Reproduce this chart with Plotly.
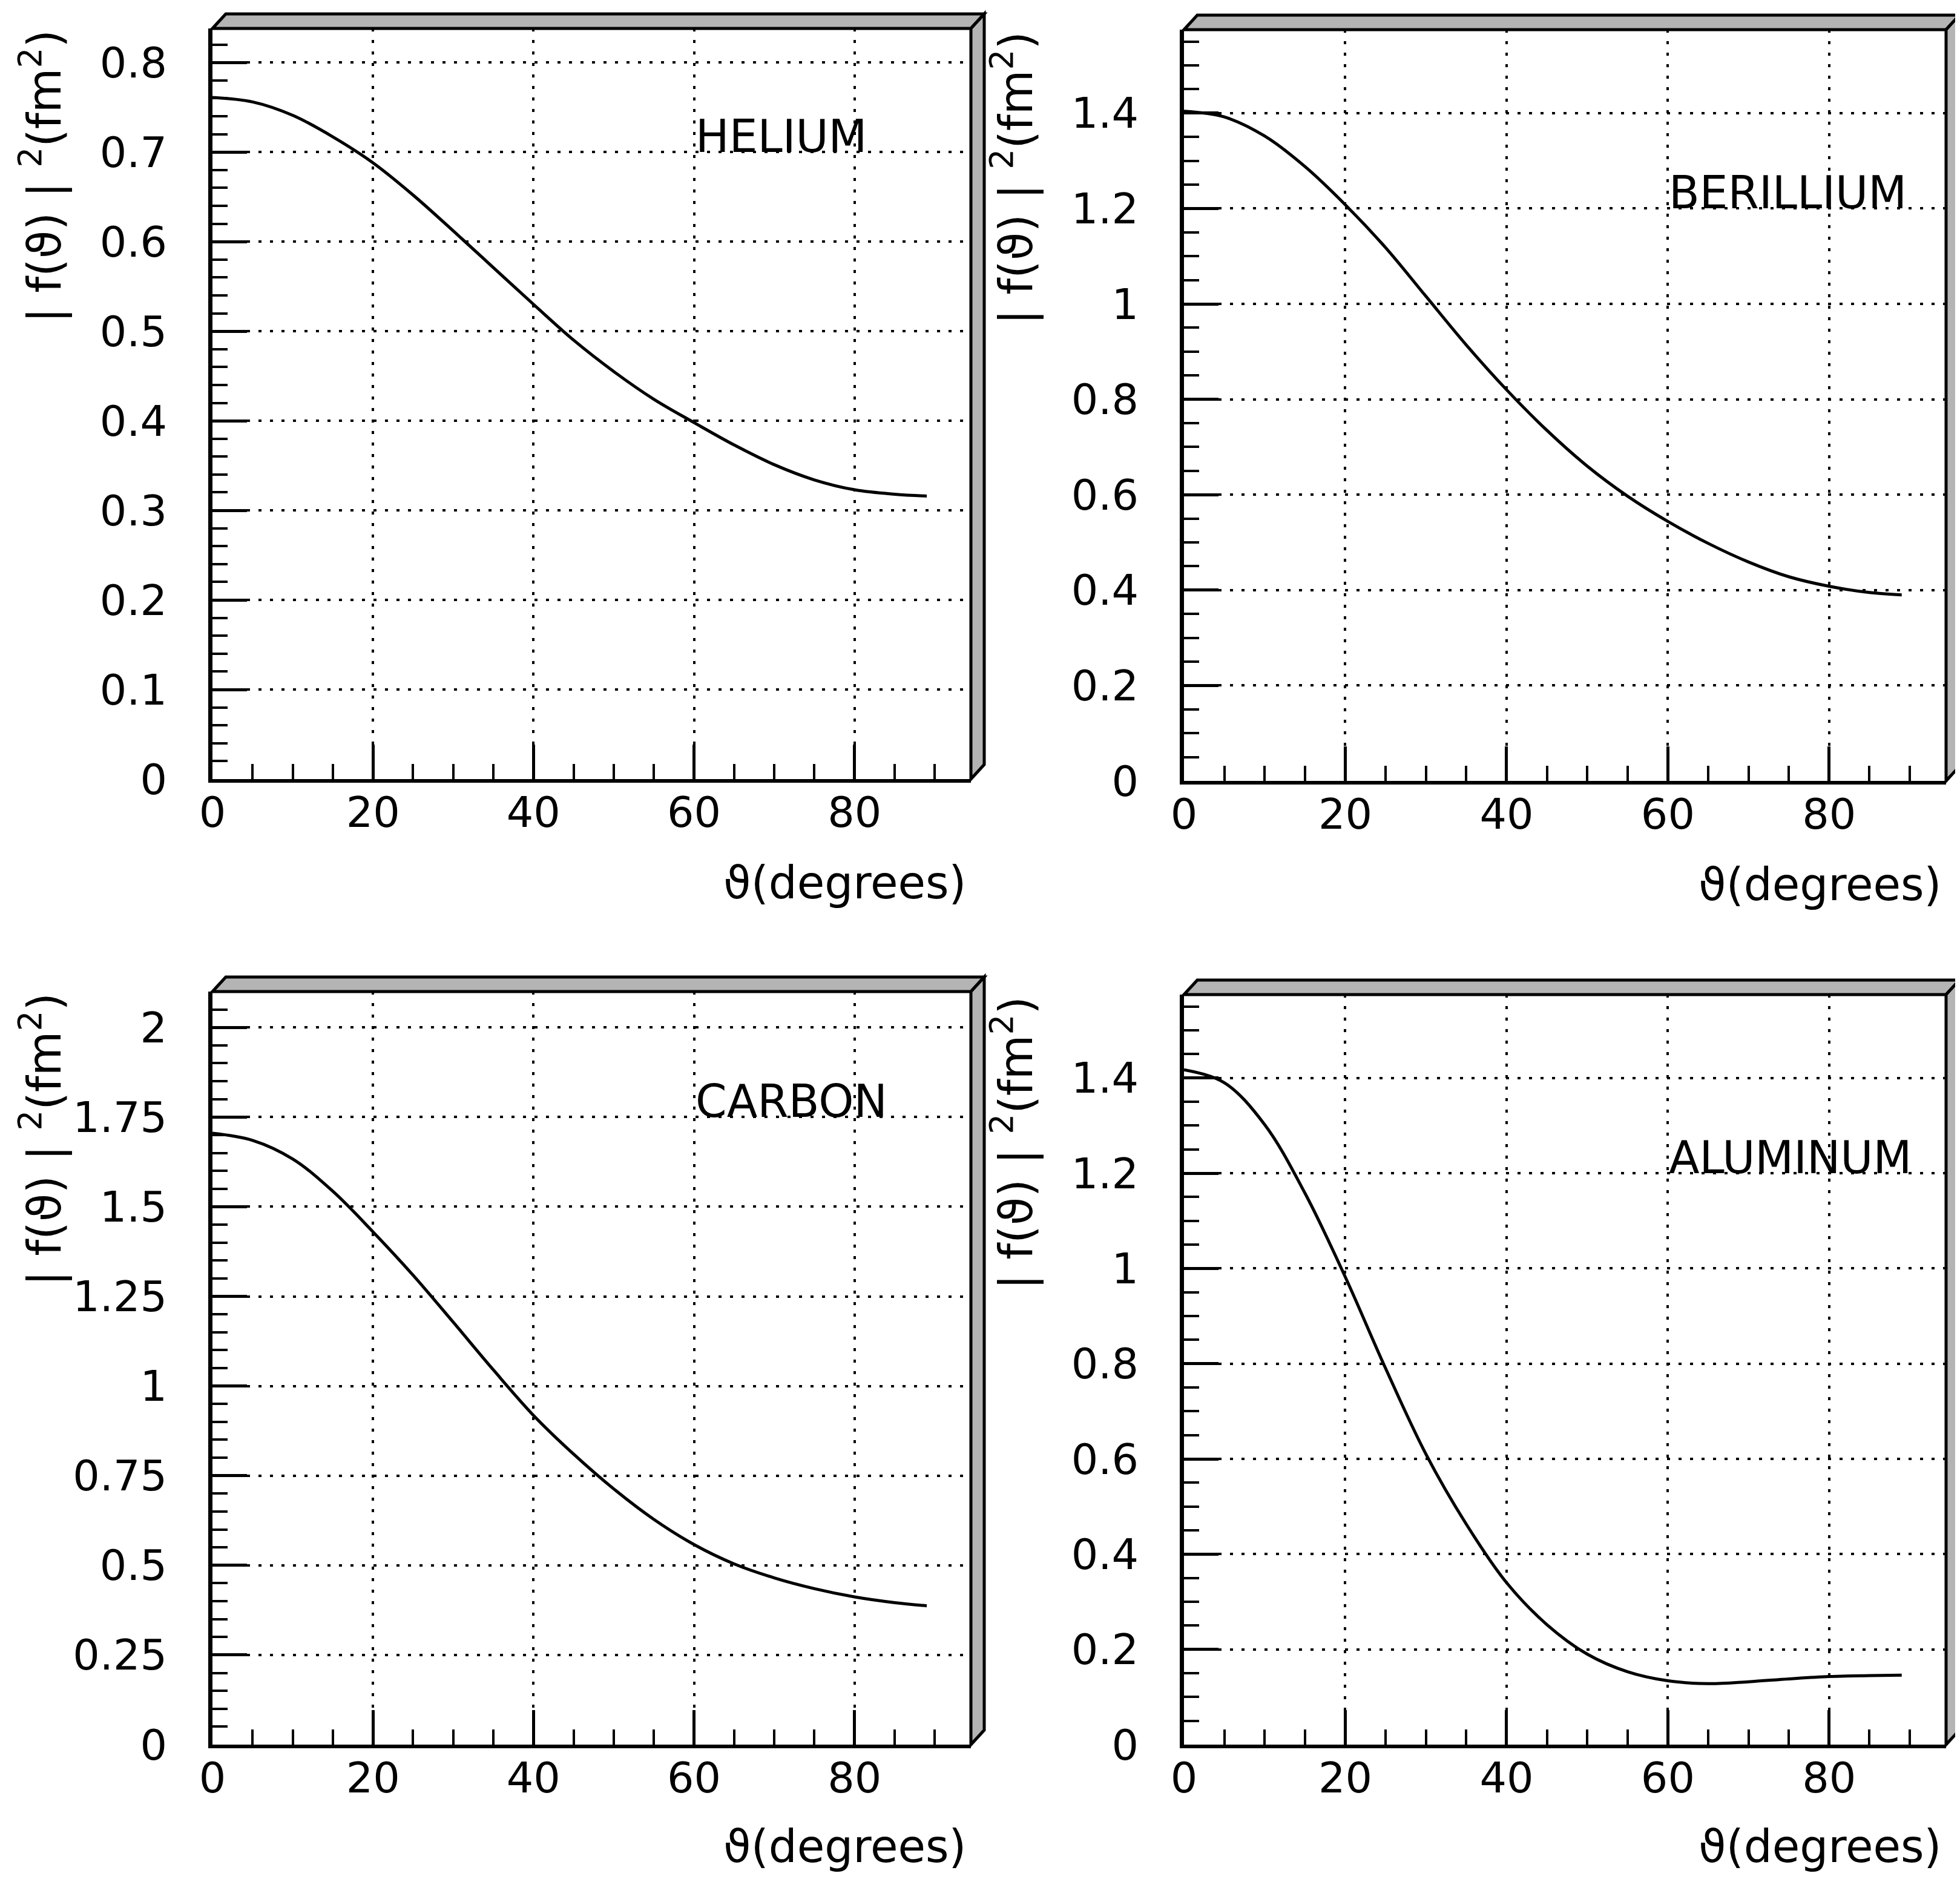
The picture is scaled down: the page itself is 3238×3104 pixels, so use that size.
import plotly.graph_objects as go

# ---------------- data ----------------
theta = [0, 5, 10, 15, 20, 25, 30, 35, 40, 45, 50, 55, 60, 65, 70, 75, 80, 85, 89]

helium = [0.761, 0.756, 0.741, 0.717, 0.688, 0.652, 0.612, 0.571, 0.530, 0.490,
          0.455, 0.424, 0.398, 0.373, 0.351, 0.334, 0.323, 0.318, 0.316]
berillium = [1.404, 1.392, 1.352, 1.288, 1.208, 1.118, 1.016, 0.914, 0.820, 0.735,
             0.660, 0.597, 0.544, 0.498, 0.459, 0.428, 0.408, 0.395, 0.390]
carbon = [1.705, 1.685, 1.633, 1.543, 1.430, 1.309, 1.178, 1.045, 0.918, 0.810,
          0.713, 0.628, 0.558, 0.504, 0.465, 0.435, 0.412, 0.396, 0.387]
aluminum = [1.417, 1.390, 1.302, 1.158, 0.982, 0.790, 0.610, 0.463, 0.340, 0.252,
            0.190, 0.153, 0.134, 0.128, 0.132, 0.138, 0.143, 0.145, 0.146]

panel_names = ["HELIUM", "BERILLIUM", "CARBON", "ALUMINUM"]

x_tickvals = [0, 20, 40, 60, 80]
x_ticktext = ["0", "20", "40", "60", "80"]

he_tickvals = [0, 0.1, 0.2, 0.3, 0.4, 0.5, 0.6, 0.7, 0.8]
he_ticktext = ["0", "0.1", "0.2", "0.3", "0.4", "0.5", "0.6", "0.7", "0.8"]
be_tickvals = [0, 0.2, 0.4, 0.6, 0.8, 1.0, 1.2, 1.4]
be_ticktext = ["0", "0.2", "0.4", "0.6", "0.8", "1", "1.2", "1.4"]
c_tickvals = [0, 0.25, 0.5, 0.75, 1.0, 1.25, 1.5, 1.75, 2.0]
c_ticktext = ["0", "0.25", "0.5", "0.75", "1", "1.25", "1.5", "1.75", "2"]
al_tickvals = [0, 0.2, 0.4, 0.6, 0.8, 1.0, 1.2, 1.4]
al_ticktext = ["0", "0.2", "0.4", "0.6", "0.8", "1", "1.2", "1.4"]

x_title = "ϑ(degrees)"
y_title = "| f(ϑ) | <sup>2</sup>(fm<sup>2</sup>)"

# ---------------- layout helpers ----------------
OFF = 8                      # default body margin of the html page
FW, FH = 3238 - 2 * OFF, 3104 - 2 * OFF
FONT = "DejaVu Sans, Verdana, sans-serif"


def px(x):
    return (x - OFF) / FW


def py(y):
    return 1 - (y - OFF) / FH


# panel boxes in page pixels: left, right, top, bottom
boxes = [(351, 1604, 47, 1287), (1956, 3215, 49, 1290),
         (351, 1604, 1638, 2882), (1956, 3215, 1643, 2882)]
series = [helium, berillium, carbon, aluminum]
yticks = [(he_tickvals, he_ticktext), (be_tickvals, be_ticktext),
          (c_tickvals, c_ticktext), (al_tickvals, al_ticktext)]
yranges = [[0, 0.838], [0, 1.575], [0, 2.1], [0, 1.575]]
yminor = [0.02, 0.05, 0.05, 0.05]
label_y = [0.7, 1.2, 1.75, 1.2]
xtitle_dy = [171, 171, 168, 168]

fig = go.Figure()
shapes = []
annotations = []
DX, DY = 22, -24

for i in range(4):
    L, R, T, B = boxes[i]
    xa = "xaxis" if i == 0 else f"xaxis{i + 1}"
    ya = "yaxis" if i == 0 else f"yaxis{i + 1}"
    xr = "x" if i == 0 else f"x{i + 1}"
    yr = "y" if i == 0 else f"y{i + 1}"

    fig.add_trace(go.Scatter(x=theta, y=series[i], mode="lines",
                             line=dict(color="black", width=5, shape="spline", smoothing=1.0),
                             xaxis=xr, yaxis=yr, showlegend=False, hoverinfo="skip"))

    common = dict(showline=True, linecolor="black", zeroline=False, automargin=False,
                  showgrid=True, gridcolor="black", gridwidth=4, griddash="5px,14px",
                  ticks="inside", tickcolor="black", tickwidth=5, ticklen=57,
                  tickfont=dict(family=FONT, size=70, color="black"))
    fig.layout[xa] = dict(domain=[px(L), px(R)], anchor=yr, range=[0, 94.5],
                          tickvals=x_tickvals, ticktext=x_ticktext, linewidth=6,
                          ticklabelstandoff=-11,
                          minor=dict(dtick=5, tick0=0, ticks="inside", ticklen=25,
                                     tickwidth=4, tickcolor="black", showgrid=False),
                          **common)
    fig.layout[ya] = dict(domain=[py(B), py(T)], anchor=xr, range=yranges[i],
                          tickvals=yticks[i][0], ticktext=yticks[i][1], linewidth=7,
                          ticklabelstandoff=54,
                          minor=dict(dtick=yminor[i], tick0=0, ticks="inside", ticklen=25,
                                     tickwidth=4, tickcolor="black", showgrid=False),
                          **common)

    # 3-D bevel frame (top and right bands)
    top = (f"M {px(L)} {py(T)} L {px(L + DX)} {py(T + DY)} "
           f"L {px(R + DX)} {py(T + DY)} L {px(R)} {py(T)} Z")
    right = (f"M {px(R)} {py(T)} L {px(R + DX)} {py(T + DY)} "
             f"L {px(R + DX)} {py(B + DY)} L {px(R)} {py(B)} Z")
    for p in (top, right):
        shapes.append(dict(type="path", path=p, xref="paper", yref="paper",
                           fillcolor="#b4b4b4", line=dict(color="black", width=5),
                           layer="above"))

    # y-axis title (rotated, aligned to top of frame)
    annotations.append(dict(text=y_title, xref="paper", yref="paper",
                            x=px(L - 282), y=py(T), xanchor="center", yanchor="top",
                            textangle=-90, showarrow=False,
                            font=dict(family=FONT, size=76, color="black")))
    # x-axis title
    annotations.append(dict(text=x_title, xref="paper", yref="paper",
                            x=px(R - 6), y=py(B + xtitle_dy[i]), xanchor="right",
                            yanchor="middle", showarrow=False,
                            font=dict(family=FONT, size=74, color="black")))
    # element label
    annotations.append(dict(text=panel_names[i], xref=xr, yref=yr,
                            x=60, y=label_y[i], xanchor="left", yanchor="bottom",
                            yshift=-19, showarrow=False,
                            font=dict(family=FONT, size=74, color="black")))

fig.update_layout(width=FW, height=FH,
                  margin=dict(l=0, r=0, t=0, b=0, autoexpand=False),
                  paper_bgcolor="white", plot_bgcolor="white",
                  shapes=shapes, annotations=annotations, showlegend=False)

fig.write_html("out.html")
